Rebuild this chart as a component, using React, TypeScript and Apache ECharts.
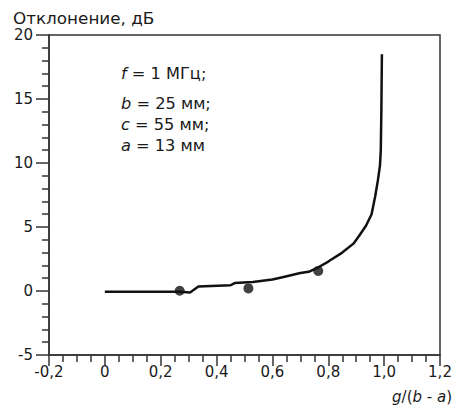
import React, { useEffect, useRef } from "react";
import * as echarts from "echarts";

const curveX = [0, 0.27, 0.305, 0.335, 0.45, 0.465, 0.53, 0.6, 0.64, 0.7, 0.73, 0.76, 0.8, 0.85, 0.89, 0.91, 0.935, 0.955, 0.968, 0.978, 0.985, 0.988, 0.99, 0.992];
const curveY = [-0.05, -0.05, -0.12, 0.35, 0.45, 0.62, 0.7, 0.9, 1.1, 1.4, 1.5, 1.8, 2.3, 3.0, 3.7, 4.3, 5.1, 6.0, 7.4, 8.7, 9.8, 11, 14, 18.5];
const dotX = [0.268, 0.514, 0.764];
const dotY = [0.02, 0.2, 1.57];
const yTitle = "Отклонение, дБ";
const notes = ["{i|f} = 1 МГц;", "{i|b} = 25 мм;", "{i|c} = 55 мм;", "{i|a} = 13 мм"];

const FONT = "DejaVu Sans, sans-serif";
const INK = "#1a1a1a";

export default function App() {
  const ref = useRef<HTMLDivElement>(null);
  useEffect(() => {
    if (!ref.current) return;
    const chart = echarts.init(ref.current, null, { renderer: "svg" });
    const fmt = (v: number) => (Math.abs(v) < 1e-9 ? "0" : v.toFixed(1).replace(".", ","));
    const fs = 15;
    const rich = { i: { fontStyle: "italic", fontSize: fs, fontFamily: FONT, fill: INK } };
    const noteTops = [67, 97, 118, 139];
    const axisCol = "#333";
    chart.setOption({
      animation: false,
      backgroundColor: "#fff",
      grid: { left: 49, right: 16, top: 35, bottom: 54, show: true, borderColor: axisCol, borderWidth: 1.5, backgroundColor: "transparent" },
      xAxis: {
        type: "value", min: -0.2, max: 1.2, interval: 0.2, position: "bottom",
        axisLine: { show: true, onZero: false, lineStyle: { color: axisCol, width: 1.5 } },
        axisTick: { show: true, inside: false, length: 11, lineStyle: { color: axisCol, width: 1.5 } },
        minorTick: { show: true, splitNumber: 4, length: 7, lineStyle: { color: axisCol, width: 1.5 } },
        splitLine: { show: false },
        axisLabel: { formatter: fmt, color: INK, fontSize: fs, fontFamily: FONT, margin: 9 },
      },
      yAxis: {
        type: "value", min: -5, max: 20, interval: 5, position: "left",
        axisLine: { show: true, onZero: false, lineStyle: { color: axisCol, width: 1.5 } },
        axisTick: { show: true, inside: false, length: 13, lineStyle: { color: axisCol, width: 1.5 } },
        minorTick: { show: true, splitNumber: 5, length: 7, lineStyle: { color: axisCol, width: 1.5 } },
        splitLine: { show: false },
        axisLabel: { color: INK, fontSize: fs, fontFamily: FONT, margin: 16 },
      },
      graphic: [
        { type: "text", x: 13, y: 11, scaleX: 1.12, style: { text: yTitle, fontSize: fs, fontFamily: FONT, fill: INK } },
        ...notes.map((t, k) => ({
          type: "text", x: 121, y: noteTops[k], scaleX: 1.08,
          style: { text: t, fontSize: fs, fontFamily: FONT, fill: INK, rich },
        })),
        {
          type: "text", right: 4, top: 389,
          style: { text: "{i|g}/({i|b} - {i|a})", fontSize: fs, fontFamily: FONT, fill: INK, rich },
        },
      ],
      series: [
        {
          type: "line", data: curveX.map((x, k) => [x, curveY[k]]), symbol: "none",
          lineStyle: { color: "#111", width: 2.5 }, z: 2,
        },
        {
          type: "scatter", data: dotX.map((x, k) => [x, dotY[k]]), symbol: "circle", symbolSize: 10,
          itemStyle: { color: "#111" }, z: 3,
        },
      ],
    });
    return () => chart.dispose();
  }, []);
  return <div ref={ref} style={{ width: 456, height: 409, position: "absolute", left: 0, top: 0 }} />;
}
